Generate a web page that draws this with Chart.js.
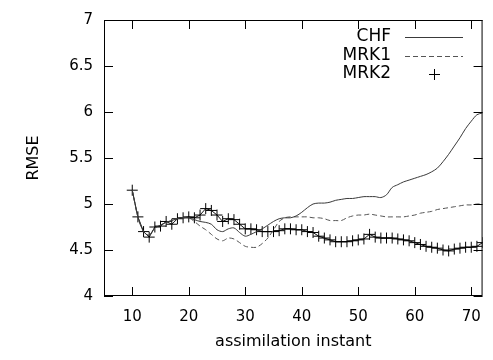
<!DOCTYPE html>
<html>
<head>
<meta charset="utf-8">
<script src="https://cdn.jsdelivr.net/npm/chart.js@4/dist/chart.umd.min.js"></script>
<style>
  html, body { margin: 0; padding: 0; background: #fff; }
  #wrap { width: 493px; height: 360px; }
</style>
</head>
<body>
<div id="wrap"><canvas id="grafico"></canvas></div>
<script>
// datos
const instantes = [];
for (let i = 10; i <= 72; i++) instantes.push(i);

const chf = [5.15, 4.86, 4.70, 4.66, 4.74, 4.77, 4.80, 4.82, 4.84, 4.85,
  4.85, 4.83, 4.81, 4.80, 4.78, 4.72, 4.70, 4.73, 4.74, 4.69,
  4.65, 4.67, 4.70, 4.73, 4.77, 4.81, 4.84, 4.85, 4.85, 4.87,
  4.91, 4.96, 5.00, 5.01, 5.01, 5.02, 5.04, 5.05, 5.06, 5.06,
  5.07, 5.08, 5.08, 5.08, 5.07, 5.10, 5.18, 5.21, 5.24, 5.26,
  5.28, 5.30, 5.32, 5.35, 5.39, 5.46, 5.54, 5.63, 5.72, 5.82,
  5.90, 5.97, 5.99];

const mrk1 = [5.15, 4.86, 4.70, 4.66, 4.74, 4.77, 4.80, 4.82, 4.84, 4.85,
  4.85, 4.81, 4.76, 4.72, 4.67, 4.62, 4.60, 4.63, 4.62, 4.58,
  4.54, 4.53, 4.53, 4.57, 4.63, 4.72, 4.81, 4.85, 4.86, 4.86,
  4.86, 4.86, 4.85, 4.85, 4.84, 4.82, 4.82, 4.82, 4.85, 4.87,
  4.88, 4.88, 4.89, 4.88, 4.87, 4.86, 4.86, 4.86, 4.86, 4.87,
  4.88, 4.90, 4.91, 4.92, 4.94, 4.95, 4.96, 4.97, 4.98, 4.99,
  4.99, 5.00, 5.00];

const mrk2 = [5.15, 4.86, 4.70, 4.64, 4.75, 4.76, 4.81, 4.78, 4.84, 4.85,
  4.86, 4.85, 4.88, 4.95, 4.93, 4.88, 4.81, 4.84, 4.83, 4.78,
  4.73, 4.73, 4.72, 4.70, 4.70, 4.70, 4.71, 4.73, 4.73, 4.72,
  4.72, 4.70, 4.69, 4.65, 4.63, 4.61, 4.59, 4.59, 4.59, 4.60,
  4.61, 4.62, 4.67, 4.64, 4.63, 4.63, 4.63, 4.62, 4.61, 4.60,
  4.58, 4.56, 4.54, 4.53, 4.52, 4.50, 4.49, 4.51, 4.52, 4.53,
  4.53, 4.54, 4.58];

const ticksX = [10, 20, 30, 40, 50, 60, 70];
const ticksY = [4, 4.5, 5, 5.5, 6, 6.5, 7];

const fuente = { family: 'DejaVu Sans', size: 15 };

function puntos(valores) {
  return instantes.map((x, i) => ({ x: x, y: valores[i] }));
}

// marco con marcas hacia dentro y leyenda estilo gnuplot
const marcoGnuplot = {
  id: 'marcoGnuplot',
  afterDraw(chart) {
    const { ctx, chartArea: a, scales } = chart;
    const largo = 9;
    ctx.save();
    ctx.strokeStyle = '#000';
    ctx.lineWidth = 1;
    ctx.strokeRect(a.left + 0.5, a.top + 0.5, a.right - a.left - 1, a.bottom - a.top - 1);
    ctx.beginPath();
    ticksX.forEach(v => {
      const px = Math.round(scales.x.getPixelForValue(v)) + 0.5;
      ctx.moveTo(px, a.bottom); ctx.lineTo(px, a.bottom - largo);
      ctx.moveTo(px, a.top); ctx.lineTo(px, a.top + largo);
    });
    ticksY.forEach(v => {
      const py = Math.round(scales.y.getPixelForValue(v)) + 0.5;
      ctx.moveTo(a.left, py); ctx.lineTo(a.left + largo, py);
      ctx.moveTo(a.right, py); ctx.lineTo(a.right - largo, py);
    });
    ctx.stroke();

    // leyenda
    ctx.font = '17px "DejaVu Sans"';
    ctx.fillStyle = '#000';
    ctx.textAlign = 'right';
    ctx.textBaseline = 'middle';
    chart.data.datasets.forEach((ds, i) => {
      const y = 37 + i * 18.5;
      ctx.fillText(ds.label, 391, y);
      ctx.beginPath();
      ctx.strokeStyle = ds.borderColor;
      if (ds.pointStyle === 'cross') {
        ctx.strokeStyle = ds.pointBorderColor;
        ctx.moveTo(434.5, y - 5); ctx.lineTo(434.5, y + 6);
        ctx.moveTo(429, Math.round(y) + 0.5); ctx.lineTo(440, Math.round(y) + 0.5);
      } else {
        ctx.setLineDash(ds.borderDash || []);
        ctx.moveTo(405, Math.round(y) + 0.5); ctx.lineTo(463, Math.round(y) + 0.5);
      }
      ctx.stroke();
      ctx.setLineDash([]);
    });
    ctx.restore();
  }
};

new Chart(document.getElementById('grafico'), {
  type: 'line',
  data: {
    datasets: [
      {
        label: 'CHF',
        data: puntos(chf),
        borderColor: '#3a3a3a',
        borderWidth: 1,
        pointRadius: 0,
        tension: 0.3
      },
      {
        label: 'MRK1',
        data: puntos(mrk1),
        borderColor: '#555',
        borderWidth: 1,
        borderDash: [5, 3],
        pointRadius: 0,
        tension: 0.3
      },
      {
        label: 'MRK2',
        data: puntos(mrk2),
        borderColor: '#111',
        borderWidth: 1,
        pointStyle: 'cross',
        pointRadius: 5.5,
        pointBorderColor: '#000',
        pointBorderWidth: 1,
        tension: 0
      }
    ]
  },
  options: {
    responsive: true,
    maintainAspectRatio: false,
    animation: false,
    layout: { padding: { top: 15, right: 4, left: 0, bottom: 0 } },
    plugins: {
      legend: { display: false },
      tooltip: { enabled: false }
    },
    scales: {
      x: {
        type: 'linear',
        min: 5,
        max: 72,
        afterBuildTicks: s => { s.ticks = ticksX.map(v => ({ value: v })); },
        afterFit: s => { s.height = 64; },
        grid: { display: false, drawTicks: false },
        border: { display: false },
        ticks: { color: '#000', font: fuente, padding: 12, maxRotation: 0 },
        title: {
          display: true,
          text: 'assimilation instant',
          color: '#000',
          font: { family: 'DejaVu Sans', size: 16 },
          padding: { top: 0, bottom: 9 }
        }
      },
      y: {
        min: 4,
        max: 7,
        afterBuildTicks: s => { s.ticks = ticksY.map(v => ({ value: v })); },
        afterFit: s => { s.width = 104; },
        grid: { display: false, drawTicks: false },
        border: { display: false },
        ticks: { color: '#000', font: fuente, padding: 11, callback: v => String(v) },
        title: {
          display: true,
          text: 'RMSE',
          color: '#000',
          font: { family: 'DejaVu Sans', size: 16 },
          padding: { top: 24, bottom: 0 }
        }
      }
    }
  },
  plugins: [marcoGnuplot]
});
</script>
</body>
</html>
